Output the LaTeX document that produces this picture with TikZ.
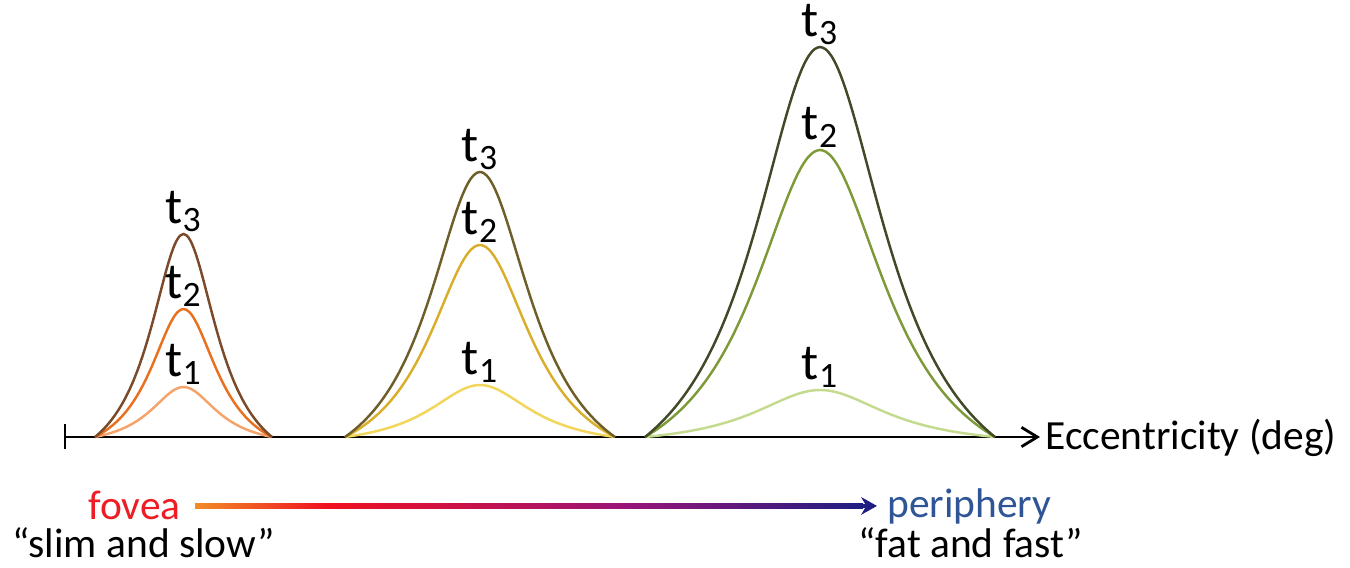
\documentclass[tikz,border=0pt]{standalone}
\usepackage{fontspec}
\setmainfont{Carlito}
\usepackage{tikz}
\usetikzlibrary{arrows.meta, calc}

\definecolor{fovone}{HTML}{F4A46A}
\definecolor{fovtwo}{HTML}{E8701E}
\definecolor{fovthree}{HTML}{7B4A2A}
\definecolor{midone}{HTML}{F2D65A}
\definecolor{midtwo}{HTML}{D9AE2A}
\definecolor{midthree}{HTML}{6E5E28}
\definecolor{perone}{HTML}{C4DA8E}
\definecolor{pertwo}{HTML}{7E9A38}
\definecolor{perthree}{HTML}{404A28}
\definecolor{gradorange}{HTML}{F28C28}
\definecolor{gradred}{HTML}{F01020}
\definecolor{gradpurple}{HTML}{9A1478}
\definecolor{gradnavy}{HTML}{1E1E82}
\definecolor{fovred}{HTML}{EE1C24}
\definecolor{perblue}{HTML}{2F5597}

\pgfdeclarehorizontalshading{eccgrad}{100bp}{color(0bp)=(gradorange); color(25bp)=(gradorange);
  color(35bp)=(gradred); color(57bp)=(gradpurple); color(75bp)=(gradnavy); color(100bp)=(gradnavy)}

\begin{document}
\begin{tikzpicture}[
  x=0.02cm, y=-0.02cm,
  declare function={bump(\u)=(1/(1+\u*\u/0.2209)-0.181)/0.819;},
  tcurve/.style={line width=1.4pt, smooth, samples=61, domain=-1:1},
  tlabel/.style={anchor=south, inner sep=1pt, font=\fontsize{29}{30}\selectfont},
  caption/.style={font=\fontsize{23.6}{26}\selectfont, inner sep=0pt},
  axisline/.style={line width=1.6pt, -{Straight Barb[length=9pt, width=11pt]}}
]
\useasboundingbox (0,0) rectangle (1350,568);

%% Axis
\coordinate (axstart) at (65,437);
\node[caption, anchor=base west] (ecc) at (1045,449) {Eccentricity (deg)};
\draw[line width=1.6pt] (65,424) -- (65,449);
\draw[axisline] (axstart) -- ($(ecc.west |- axstart)+(-5,0)$);

%% Fovea bumps
\draw[tcurve, fovone]   plot ({183.5+88.5*\x}, {437-50*bump(\x)});
\draw[tcurve, fovtwo]   plot ({183.5+88.5*\x}, {437-128*bump(\x)});
\draw[tcurve, fovthree] plot ({183.5+88.5*\x}, {437-203*bump(\x)});
\node[tlabel] (fovtone)   at (183.5,387) {t\textsubscript{1}};
\node[tlabel] (fovttwo)   at (183.5,309) {t\textsubscript{2}};
\node[tlabel] (fovtthree) at (183.5,234) {t\textsubscript{3}};

%% Middle bumps
\draw[tcurve, midone]   plot ({480+135*\x}, {437-52*bump(\x)});
\draw[tcurve, midtwo]   plot ({480+135*\x}, {437-192*bump(\x)});
\draw[tcurve, midthree] plot ({480+135*\x}, {437-265*bump(\x)});
\node[tlabel] (midtone)   at (480,385) {t\textsubscript{1}};
\node[tlabel] (midttwo)   at (480,245) {t\textsubscript{2}};
\node[tlabel] (midtthree) at (480,172) {t\textsubscript{3}};

%% Periphery bumps
\draw[tcurve, perone]   plot ({820+175*\x}, {437-47*bump(\x)});
\draw[tcurve, pertwo]   plot ({820+175*\x}, {437-287*bump(\x)});
\draw[tcurve, perthree] plot ({820+175*\x}, {437-390*bump(\x)});
\node[tlabel] (pertone)   at (820,390) {t\textsubscript{1}};
\node[tlabel] (perttwo)   at (820,150) {t\textsubscript{2}};
\node[tlabel] (pertthree) at (820,47)  {t\textsubscript{3}};

%% Fovea to periphery
\node[caption, anchor=base east, text=fovred] (fovea) at (181,519) {fovea};
\node[caption, anchor=base west, text=perblue] (periphery) at (887,517) {periphery};
\node[caption, anchor=base west] (slim) at (12,557) {“slim and slow”};
\node[caption, anchor=base west] (fat) at (858,557) {“fat and fast”};
\coordinate (gl) at ($(fovea.east)+(14,1)$);
\coordinate (gr) at ($(periphery.west |- gl)+(-10,0)$);
\shade[shading=eccgrad] ($(gl)+(0,-2.2)$) rectangle ($(gr)+(-14,2.2)$);
\draw[line width=2.4pt, gradnavy, -{Stealth[length=9pt, width=10pt]}] ($(gr)+(-16,0)$) -- (gr);
\end{tikzpicture}
\end{document}
